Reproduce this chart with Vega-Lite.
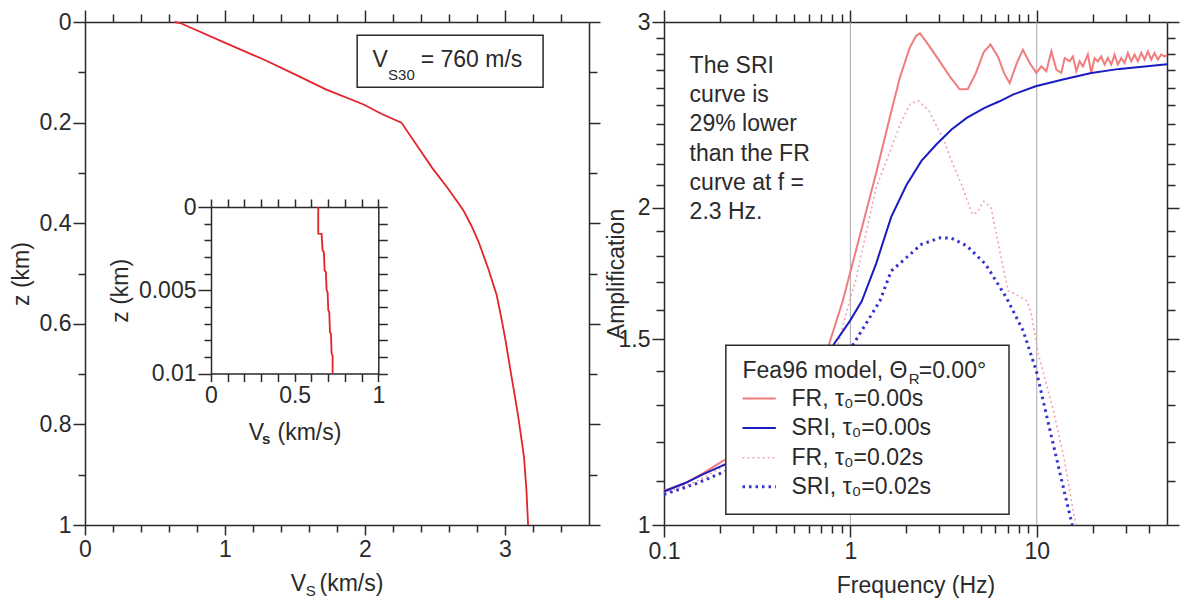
{
"$schema": "https://vega.github.io/schema/vega-lite/v6.json",
"background": "white",
"padding": {"left": 10, "top": 9, "right": 4, "bottom": 4},
"bounds": "flush",
"spacing": 75,
"config": {
  "font": "Liberation Sans",
  "view": {"stroke": null},
  "axis": {"labelFont": "Liberation Sans", "labelFontSize": 23, "labelColor": "#2a2a2a", "titleFont": "Liberation Sans", "titleFontSize": 23, "titleFontWeight": "normal", "titleColor": "#2a2a2a", "domainColor": "#2a2a2a", "domainWidth": 1.5, "tickColor": "#2a2a2a", "tickWidth": 1.5, "grid": false, "labelFlush": false, "labelOverlap": false, "labelBound": false},
  "text": {"font": "Liberation Sans", "fontSize": 23, "color": "#2a2a2a", "align": "left", "baseline": "alphabetic"}
},
"datasets": {
  "profile": [
    {"vs":0.64,"z":0},{"vs":0.68,"z":0.002},{"vs":1.03,"z":0.045},{"vs":1.28,"z":0.075},{"vs":1.5,"z":0.104},{"vs":1.72,"z":0.134},{"vs":1.99,"z":0.164},{"vs":2.12,"z":0.183},{"vs":2.26,"z":0.2},{"vs":2.37,"z":0.245},{"vs":2.48,"z":0.29},{"vs":2.59,"z":0.33},{"vs":2.7,"z":0.373},{"vs":2.76,"z":0.405},{"vs":2.81,"z":0.436},{"vs":2.88,"z":0.49},{"vs":2.94,"z":0.542},{"vs":2.975,"z":0.59},{"vs":3.005,"z":0.635},{"vs":3.04,"z":0.694},{"vs":3.068,"z":0.74},{"vs":3.092,"z":0.78},{"vs":3.118,"z":0.83},{"vs":3.136,"z":0.866},{"vs":3.153,"z":0.93},{"vs":3.165,"z":1.0}
  ],
  "inset": [
    {"vs":0.641,"z":0},{"vs":0.641,"z":0.0016},{"vs":0.661,"z":0.00161},{"vs":0.667,"z":0.0026},{"vs":0.675,"z":0.00271},{"vs":0.679,"z":0.0038},{"vs":0.687,"z":0.00391},{"vs":0.691,"z":0.005},{"vs":0.697,"z":0.00511},{"vs":0.701,"z":0.0062},{"vs":0.707,"z":0.00631},{"vs":0.711,"z":0.0075},{"vs":0.717,"z":0.00761},{"vs":0.721,"z":0.0088},{"vs":0.727,"z":0.00891},{"vs":0.727,"z":0.01}
  ],
  "grid": [{"f":1},{"f":10}],
  "fr0": [
    {"f":0.1,"a":1.078},{"f":0.13,"a":1.096},{"f":0.16,"a":1.118},{"f":0.2,"a":1.146},{"f":0.25,"a":1.172},{"f":0.3,"a":1.197},{"f":0.4,"a":1.245},{"f":0.5,"a":1.3},{"f":0.6,"a":1.365},{"f":0.7,"a":1.435},{"f":0.769,"a":1.485},{"f":0.91,"a":1.631},{"f":1.123,"a":1.88},{"f":1.385,"a":2.168},{"f":1.593,"a":2.398},{"f":1.84,"a":2.655},{"f":2.08,"a":2.835},{"f":2.25,"a":2.91},{"f":2.364,"a":2.926},{"f":2.6,"a":2.86},{"f":3.017,"a":2.753},{"f":3.46,"a":2.655},{"f":3.86,"a":2.59},{"f":4.27,"a":2.592},{"f":4.7,"a":2.68},{"f":5.2,"a":2.81},{"f":5.65,"a":2.856},{"f":6.2,"a":2.78},{"f":6.7,"a":2.68},{"f":7.16,"a":2.625},{"f":7.8,"a":2.74},{"f":8.43,"a":2.824},{"f":9.2,"a":2.74},{"f":9.95,"a":2.685},{"f":10.59,"a":2.723},{"f":11.26,"a":2.694},{"f":11.98,"a":2.814},{"f":12.74,"a":2.704},{"f":13.55,"a":2.684},{"f":14.12,"a":2.773},{"f":15.01,"a":2.753},{"f":15.64,"a":2.783},{"f":16.31,"a":2.694},{"f":16.98,"a":2.753},{"f":17.69,"a":2.723},{"f":18.81,"a":2.794},{"f":19.62,"a":2.684},{"f":20.44,"a":2.773},{"f":21.29,"a":2.753},{"f":22.2,"a":2.783},{"f":23.12,"a":2.734},{"f":24.09,"a":2.773},{"f":25.12,"a":2.734},{"f":26.17,"a":2.794},{"f":27.25,"a":2.734},{"f":28.42,"a":2.773},{"f":29.61,"a":2.743},{"f":30.83,"a":2.804},{"f":32.16,"a":2.753},{"f":33.49,"a":2.794},{"f":34.88,"a":2.753},{"f":36.38,"a":2.804},{"f":37.89,"a":2.764},{"f":39.48,"a":2.814},{"f":41.17,"a":2.764},{"f":42.87,"a":2.804},{"f":44.66,"a":2.764},{"f":46.57,"a":2.794},{"f":48.5,"a":2.783},{"f":50,"a":2.79}
  ],
  "sri0": [
    {"f":0.1,"a":1.076},{"f":0.13,"a":1.096},{"f":0.1616,"a":1.117},{"f":0.214,"a":1.142},{"f":0.3,"a":1.19},{"f":0.4,"a":1.24},{"f":0.5,"a":1.29},{"f":0.6,"a":1.35},{"f":0.7,"a":1.415},{"f":0.817,"a":1.485},{"f":0.993,"a":1.561},{"f":1.152,"a":1.631},{"f":1.375,"a":1.77},{"f":1.657,"a":1.96},{"f":1.997,"a":2.1},{"f":2.406,"a":2.215},{"f":2.899,"a":2.297},{"f":3.49,"a":2.372},{"f":4.21,"a":2.433},{"f":5.25,"a":2.487},{"f":6.32,"a":2.523},{"f":7.45,"a":2.56},{"f":9.87,"a":2.607},{"f":13.82,"a":2.646},{"f":19.62,"a":2.684},{"f":27.8,"a":2.708},{"f":38,"a":2.722},{"f":50,"a":2.735}
  ],
  "fr2": [
    {"f":0.1,"a":1.072},{"f":0.15,"a":1.1},{"f":0.2,"a":1.132},{"f":0.3,"a":1.185},{"f":0.5,"a":1.29},{"f":0.7,"a":1.42},{"f":0.86,"a":1.485},{"f":0.99,"a":1.631},{"f":1.065,"a":1.704},{"f":1.375,"a":2.089},{"f":1.82,"a":2.38},{"f":1.917,"a":2.433},{"f":2.09,"a":2.507},{"f":2.31,"a":2.527},{"f":2.64,"a":2.471},{"f":3.18,"a":2.314},{"f":3.49,"a":2.215},{"f":4.01,"a":2.089},{"f":4.51,"a":1.971},{"f":4.8,"a":1.98},{"f":5.19,"a":2.028},{"f":5.69,"a":1.999},{"f":6.39,"a":1.806},{"f":7.02,"a":1.667},{"f":7.72,"a":1.655},{"f":8.86,"a":1.631},{"f":9.28,"a":1.596},{"f":10.2,"a":1.452},{"f":12.3,"a":1.283},{"f":14.1,"a":1.15},{"f":15.8,"a":1.024},{"f":16.3,"a":1.0}
  ],
  "sri2": [
    {"f":0.1,"a":1.069},{"f":0.15,"a":1.095},{"f":0.214,"a":1.125},{"f":0.3,"a":1.165},{"f":0.5,"a":1.25},{"f":0.7,"a":1.34},{"f":0.85,"a":1.41},{"f":1.04,"a":1.485},{"f":1.44,"a":1.631},{"f":1.657,"a":1.742},{"f":1.997,"a":1.793},{"f":2.406,"a":1.846},{"f":3.04,"a":1.873},{"f":3.49,"a":1.871},{"f":4.21,"a":1.84},{"f":5.31,"a":1.768},{"f":6.7,"a":1.655},{"f":7.02,"a":1.631},{"f":8.46,"a":1.528},{"f":9.95,"a":1.4},{"f":11.7,"a":1.236},{"f":13.5,"a":1.109},{"f":15.5,"a":1.0}
  ]
},
"hconcat": [
  {
    "width": 504, "height": 503,
    "resolve": {"scale": {"x": "independent", "y": "independent"}, "axis": {"x": "independent", "y": "independent"}},
    "layer": [
      {"data": {"name": "profile"}, "mark": {"type": "line", "color": "#e3242b", "strokeWidth": 1.8},
       "encoding": {
         "x": {"field": "vs", "type": "quantitative", "scale": {"type": "linear", "domain": [0, 3.6], "nice": false, "zero": false}, "axis": {"orient": "bottom", "values": [0, 1, 2, 3], "tickSize": 10, "labelPadding": 3, "format": "~g", "title": null}},
         "y": {"field": "z", "type": "quantitative", "scale": {"type": "linear", "domain": [0, 1], "nice": false, "zero": false, "reverse": true}, "axis": {"orient": "left", "values": [0, 0.2, 0.4, 0.6, 0.8, 1], "tickSize": 12, "labelPadding": 2, "format": "~g", "title": "z (km)", "titlePadding": 6}},
         "order": {"field": "z", "type": "quantitative"}}},
      {"data": {"name": "profile"}, "mark": {"type": "point", "opacity": 0},
       "encoding": {
         "x": {"field": "vs", "type": "quantitative", "scale": {"type": "linear", "domain": [0, 3.6], "nice": false, "zero": false}, "axis": {"orient": "bottom", "values": [0.2, 0.4, 0.6, 0.8, 1.2, 1.4, 1.6, 1.8, 2.2, 2.4, 2.6, 2.8, 3.2, 3.4], "tickSize": 7, "labels": false, "domain": false, "title": null}},
         "y": {"field": "z", "type": "quantitative", "scale": {"type": "linear", "domain": [0, 1], "nice": false, "zero": false, "reverse": true}, "axis": {"orient": "left", "values": [0.1, 0.3, 0.5, 0.7, 0.9], "tickSize": 7, "labels": false, "domain": false, "title": null}}}},
      {"data": {"name": "profile"}, "mark": {"type": "point", "opacity": 0},
       "encoding": {
         "x": {"field": "vs", "type": "quantitative", "scale": {"type": "linear", "domain": [0, 3.6], "nice": false, "zero": false}, "axis": {"orient": "top", "values": [0, 1, 2, 3], "tickSize": 12, "labels": false, "title": null}},
         "y": {"field": "z", "type": "quantitative", "scale": {"type": "linear", "domain": [0, 1], "nice": false, "zero": false, "reverse": true}, "axis": {"orient": "right", "values": [0, 0.2, 0.4, 0.6, 0.8, 1], "tickSize": 11, "labels": false, "title": null}}}},
      {"data": {"name": "profile"}, "mark": {"type": "point", "opacity": 0},
       "encoding": {
         "x": {"field": "vs", "type": "quantitative", "scale": {"type": "linear", "domain": [0, 3.6], "nice": false, "zero": false}, "axis": {"orient": "top", "values": [0.2, 0.4, 0.6, 0.8, 1.2, 1.4, 1.6, 1.8, 2.2, 2.4, 2.6, 2.8, 3.2, 3.4], "tickSize": 8, "labels": false, "domain": false, "title": null}},
         "y": {"field": "z", "type": "quantitative", "scale": {"type": "linear", "domain": [0, 1], "nice": false, "zero": false, "reverse": true}, "axis": {"orient": "right", "values": [0.1, 0.3, 0.5, 0.7, 0.9], "tickSize": 8, "labels": false, "domain": false, "title": null}}}},
      {"data": {"name": "inset"}, "mark": {"type": "line", "color": "#e3242b", "strokeWidth": 1.8},
       "encoding": {
         "x": {"field": "vs", "type": "quantitative", "scale": {"type": "linear", "domain": [0, 1], "nice": false, "zero": false, "range": [126, 293.3]}, "axis": {"orient": "bottom", "offset": -151.4, "values": [0, 0.1, 0.2, 0.3, 0.4, 0.5, 0.6, 0.7, 0.8, 0.9, 1], "tickSize": 8, "labelPadding": 3, "format": "~g", "labelExpr": "datum.value == 0 || datum.value == 0.5 || datum.value == 1 ? datum.label : ''", "title": null}},
         "y": {"field": "z", "type": "quantitative", "scale": {"type": "linear", "domain": [0, 0.01], "nice": false, "zero": false, "range": [185, 351.6]}, "axis": {"orient": "left", "offset": -126, "values": [0, 0.005, 0.01], "tickSize": 13, "labelPadding": 2, "format": "~g", "title": "z (km)", "titlePadding": 6}},
         "order": {"field": "z", "type": "quantitative"}}},
      {"data": {"name": "inset"}, "mark": {"type": "point", "opacity": 0},
       "encoding": {
         "x": {"field": "vs", "type": "quantitative", "scale": {"type": "linear", "domain": [0, 1], "nice": false, "zero": false, "range": [126, 293.3]}, "axis": {"orient": "top", "offset": -185, "values": [0, 0.1, 0.2, 0.3, 0.4, 0.5, 0.6, 0.7, 0.8, 0.9, 1], "tickSize": 8, "labels": false, "title": null}},
         "y": {"field": "z", "type": "quantitative", "scale": {"type": "linear", "domain": [0, 0.01], "nice": false, "zero": false, "range": [185, 351.6]}, "axis": {"orient": "left", "offset": -126, "values": [0.001, 0.002, 0.003, 0.004, 0.006, 0.007, 0.008, 0.009], "tickSize": 7, "labels": false, "domain": false, "title": null}}}},
      {"data": {"name": "inset"}, "mark": {"type": "point", "opacity": 0},
       "encoding": {
         "x": {"field": "vs", "type": "quantitative", "scale": {"type": "linear", "domain": [0, 1], "nice": false, "zero": false, "range": [126, 293.3]}, "axis": null},
         "y": {"field": "z", "type": "quantitative", "scale": {"type": "linear", "domain": [0, 0.01], "nice": false, "zero": false, "range": [185, 351.6]}, "axis": {"orient": "right", "offset": -210.7, "values": [0, 0.001, 0.002, 0.003, 0.004, 0.005, 0.006, 0.007, 0.008, 0.009, 0.01], "tickSize": 9, "labels": false, "title": null}}}},
      {"data": {"values": [{}]}, "mark": {"type": "rect", "fill": "white", "stroke": "#2a2a2a", "strokeWidth": 1.5},
       "encoding": {
         "x": {"datum": 1.944, "type": "quantitative", "scale": {"type": "linear", "domain": [0, 3.6], "nice": false, "zero": false}, "axis": null}, "x2": {"datum": 3.272},
         "y": {"datum": 0.0264, "type": "quantitative", "scale": {"type": "linear", "domain": [0, 1], "nice": false, "zero": false, "reverse": true}, "axis": null}, "y2": {"datum": 0.1298}}},
      {"data": {"values": [{}]}, "mark": {"type": "text", "text": "V", "fontSize": 23},
       "encoding": {
         "x": {"datum": 2.054, "type": "quantitative", "scale": {"type": "linear", "domain": [0, 3.6], "nice": false, "zero": false}, "axis": null},
         "y": {"datum": 0.0895, "type": "quantitative", "scale": {"type": "linear", "domain": [0, 1], "nice": false, "zero": false, "reverse": true}, "axis": null}}},
      {"data": {"values": [{}]}, "mark": {"type": "text", "text": "S30", "fontSize": 15},
       "encoding": {
         "x": {"datum": 2.165, "type": "quantitative", "scale": {"type": "linear", "domain": [0, 3.6], "nice": false, "zero": false}, "axis": null},
         "y": {"datum": 0.1145, "type": "quantitative", "scale": {"type": "linear", "domain": [0, 1], "nice": false, "zero": false, "reverse": true}, "axis": null}}},
      {"data": {"values": [{}]}, "mark": {"type": "text", "text": "= 760 m/s", "fontSize": 23},
       "encoding": {
         "x": {"datum": 2.398, "type": "quantitative", "scale": {"type": "linear", "domain": [0, 3.6], "nice": false, "zero": false}, "axis": null},
         "y": {"datum": 0.0895, "type": "quantitative", "scale": {"type": "linear", "domain": [0, 1], "nice": false, "zero": false, "reverse": true}, "axis": null}}},
      {"data": {"values": [{}]}, "mark": {"type": "text", "text": "V", "fontSize": 23},
       "encoding": {
         "x": {"datum": 1.47, "type": "quantitative", "scale": {"type": "linear", "domain": [0, 3.6], "nice": false, "zero": false}, "axis": null},
         "y": {"datum": 1.132, "type": "quantitative", "scale": {"type": "linear", "domain": [0, 1], "nice": false, "zero": false, "reverse": true}, "axis": null}}},
      {"data": {"values": [{}]}, "mark": {"type": "text", "text": "S", "fontSize": 15},
       "encoding": {
         "x": {"datum": 1.577, "type": "quantitative", "scale": {"type": "linear", "domain": [0, 3.6], "nice": false, "zero": false}, "axis": null},
         "y": {"datum": 1.142, "type": "quantitative", "scale": {"type": "linear", "domain": [0, 1], "nice": false, "zero": false, "reverse": true}, "axis": null}}},
      {"data": {"values": [{}]}, "mark": {"type": "text", "text": "(km/s)", "fontSize": 23},
       "encoding": {
         "x": {"datum": 1.675, "type": "quantitative", "scale": {"type": "linear", "domain": [0, 3.6], "nice": false, "zero": false}, "axis": null},
         "y": {"datum": 1.132, "type": "quantitative", "scale": {"type": "linear", "domain": [0, 1], "nice": false, "zero": false, "reverse": true}, "axis": null}}},
      {"data": {"values": [{}]}, "mark": {"type": "text", "text": "V", "fontSize": 23},
       "encoding": {
         "x": {"datum": 0.225, "type": "quantitative", "scale": {"type": "linear", "domain": [0, 1], "nice": false, "zero": false, "range": [126, 293.3]}, "axis": null},
         "y": {"datum": 0.01396, "type": "quantitative", "scale": {"type": "linear", "domain": [0, 0.01], "nice": false, "zero": false, "range": [185, 351.6]}, "axis": null}}},
      {"data": {"values": [{}]}, "mark": {"type": "text", "text": "s", "fontSize": 15, "fontWeight": "bold"},
       "encoding": {
         "x": {"datum": 0.305, "type": "quantitative", "scale": {"type": "linear", "domain": [0, 1], "nice": false, "zero": false, "range": [126, 293.3]}, "axis": null},
         "y": {"datum": 0.01424, "type": "quantitative", "scale": {"type": "linear", "domain": [0, 0.01], "nice": false, "zero": false, "range": [185, 351.6]}, "axis": null}}},
      {"data": {"values": [{}]}, "mark": {"type": "text", "text": "(km/s)", "fontSize": 23},
       "encoding": {
         "x": {"datum": 0.3975, "type": "quantitative", "scale": {"type": "linear", "domain": [0, 1], "nice": false, "zero": false, "range": [126, 293.3]}, "axis": null},
         "y": {"datum": 0.01396, "type": "quantitative", "scale": {"type": "linear", "domain": [0, 0.01], "nice": false, "zero": false, "range": [185, 351.6]}, "axis": null}}}
    ]
  },
  {
    "width": 503, "height": 503,
    "resolve": {"axis": {"x": "independent", "y": "independent"}},
    "layer": [
      {"data": {"name": "grid"}, "mark": {"type": "rule", "color": "#a8a8a8", "strokeWidth": 1},
       "encoding": {
         "x": {"field": "f", "type": "quantitative", "scale": {"type": "log", "domain": [0.1, 50], "nice": false}, "axis": {"orient": "bottom", "values": [0.1, 1, 10], "tickSize": 12, "labelPadding": 3, "format": "~g", "title": "Frequency (Hz)", "titlePadding": 11}}}},
      {"data": {"name": "fr2"}, "mark": {"type": "line", "color": "#f4a3ab", "strokeWidth": 1.6, "strokeDash": [2, 3]},
       "encoding": {
         "x": {"field": "f", "type": "quantitative", "scale": {"type": "log", "domain": [0.1, 50], "nice": false}, "axis": {"orient": "bottom", "values": [0.2, 0.3, 0.4, 0.5, 0.6, 0.7, 0.8, 0.9, 2, 3, 4, 5, 6, 7, 8, 9, 20, 30, 40], "tickSize": 8, "labels": false, "domain": false, "title": null}},
         "y": {"field": "a", "type": "quantitative", "scale": {"type": "log", "domain": [1, 3], "nice": false}, "axis": {"orient": "left", "values": [1, 1.5, 2, 3], "tickSize": 12, "labelPadding": 2, "format": "~g", "title": "Amplification", "titlePadding": -10}}}},
      {"data": {"name": "sri2"}, "mark": {"type": "line", "color": "#3333d0", "strokeWidth": 3, "strokeDash": [2.5, 4]},
       "encoding": {
         "x": {"field": "f", "type": "quantitative", "scale": {"type": "log", "domain": [0.1, 50], "nice": false}, "axis": {"orient": "top", "values": [0.1, 1, 10], "tickSize": 12, "labels": false, "title": null}},
         "y": {"field": "a", "type": "quantitative", "scale": {"type": "log", "domain": [1, 3], "nice": false}, "axis": {"orient": "left", "values": [1.1, 1.2, 1.3, 1.4, 1.6, 1.7, 1.8, 1.9, 2.1, 2.2, 2.3, 2.4, 2.5, 2.6, 2.7, 2.8, 2.9], "tickSize": 8, "labels": false, "domain": false, "title": null}}}},
      {"data": {"name": "fr0"}, "mark": {"type": "line", "color": "#f07c7c", "strokeWidth": 2},
       "encoding": {
         "x": {"field": "f", "type": "quantitative", "scale": {"type": "log", "domain": [0.1, 50], "nice": false}, "axis": {"orient": "top", "values": [0.2, 0.3, 0.4, 0.5, 0.6, 0.7, 0.8, 0.9, 2, 3, 4, 5, 6, 7, 8, 9, 20, 30, 40], "tickSize": 8, "labels": false, "domain": false, "title": null}},
         "y": {"field": "a", "type": "quantitative", "scale": {"type": "log", "domain": [1, 3], "nice": false}, "axis": {"orient": "right", "values": [1, 1.5, 2, 3], "tickSize": 12, "labels": false, "title": null}}}},
      {"data": {"name": "sri0"}, "mark": {"type": "line", "color": "#1c1cc0", "strokeWidth": 2},
       "encoding": {
         "x": {"field": "f", "type": "quantitative", "scale": {"type": "log", "domain": [0.1, 50], "nice": false}, "axis": null},
         "y": {"field": "a", "type": "quantitative", "scale": {"type": "log", "domain": [1, 3], "nice": false}, "axis": {"orient": "right", "values": [1.1, 1.2, 1.3, 1.4, 1.6, 1.7, 1.8, 1.9, 2.1, 2.2, 2.3, 2.4, 2.5, 2.6, 2.7, 2.8, 2.9], "tickSize": 8, "labels": false, "domain": false, "title": null}}}},
      {"data": {"values": [{}]}, "mark": {"type": "text", "text": ["The SRI", "curve is", "29% lower", "than the FR", "curve at f =", "2.3 Hz."], "fontSize": 23, "lineHeight": 29.3},
       "encoding": {
         "x": {"datum": 0.1372, "type": "quantitative", "scale": {"type": "log", "domain": [0.1, 50], "nice": false}, "axis": null},
         "y": {"datum": 2.685, "type": "quantitative", "scale": {"type": "log", "domain": [1, 3], "nice": false}, "axis": null}}},
      {"data": {"values": [{}]}, "mark": {"type": "rect", "fill": "white", "stroke": "#2a2a2a", "strokeWidth": 1.5},
       "encoding": {
         "x": {"datum": 0.2147, "type": "quantitative", "scale": {"type": "log", "domain": [0.1, 50], "nice": false}, "axis": null}, "x2": {"datum": 7.1},
         "y": {"datum": 1.481, "type": "quantitative", "scale": {"type": "log", "domain": [1, 3], "nice": false}, "axis": null}, "y2": {"datum": 1.0236}}},
      {"data": {"values": [{}]}, "mark": {"type": "text", "text": "Fea96 model, Θ", "fontSize": 23},
       "encoding": {
         "x": {"datum": 0.2638, "type": "quantitative", "scale": {"type": "log", "domain": [0.1, 50], "nice": false}, "axis": null},
         "y": {"datum": 1.379, "type": "quantitative", "scale": {"type": "log", "domain": [1, 3], "nice": false}, "axis": null}}},
      {"data": {"values": [{}]}, "mark": {"type": "text", "text": "R", "fontSize": 15},
       "encoding": {
         "x": {"datum": 2.056, "type": "quantitative", "scale": {"type": "log", "domain": [0.1, 50], "nice": false}, "axis": null},
         "y": {"datum": 1.36, "type": "quantitative", "scale": {"type": "log", "domain": [1, 3], "nice": false}, "axis": null}}},
      {"data": {"values": [{}]}, "mark": {"type": "text", "text": "=0.00°", "fontSize": 23},
       "encoding": {
         "x": {"datum": 2.327, "type": "quantitative", "scale": {"type": "log", "domain": [0.1, 50], "nice": false}, "axis": null},
         "y": {"datum": 1.379, "type": "quantitative", "scale": {"type": "log", "domain": [1, 3], "nice": false}, "axis": null}}},
      {"data": {"values": [{}]}, "mark": {"type": "rule", "color": "#f07c7c", "strokeWidth": 2},
       "encoding": {
         "x": {"datum": 0.2638, "type": "quantitative", "scale": {"type": "log", "domain": [0.1, 50], "nice": false}, "axis": null}, "x2": {"datum": 0.398},
         "y": {"datum": 1.318, "type": "quantitative", "scale": {"type": "log", "domain": [1, 3], "nice": false}, "axis": null}}},
      {"data": {"values": [{}]}, "mark": {"type": "rule", "color": "#1c1cc0", "strokeWidth": 2},
       "encoding": {
         "x": {"datum": 0.2638, "type": "quantitative", "scale": {"type": "log", "domain": [0.1, 50], "nice": false}, "axis": null}, "x2": {"datum": 0.398},
         "y": {"datum": 1.2363, "type": "quantitative", "scale": {"type": "log", "domain": [1, 3], "nice": false}, "axis": null}}},
      {"data": {"values": [{}]}, "mark": {"type": "rule", "color": "#f4a3ab", "strokeWidth": 1.6, "strokeDash": [2, 3]},
       "encoding": {
         "x": {"datum": 0.2638, "type": "quantitative", "scale": {"type": "log", "domain": [0.1, 50], "nice": false}, "axis": null}, "x2": {"datum": 0.398},
         "y": {"datum": 1.1581, "type": "quantitative", "scale": {"type": "log", "domain": [1, 3], "nice": false}, "axis": null}}},
      {"data": {"values": [{}]}, "mark": {"type": "rule", "color": "#3333d0", "strokeWidth": 3, "strokeDash": [2.5, 4]},
       "encoding": {
         "x": {"datum": 0.2638, "type": "quantitative", "scale": {"type": "log", "domain": [0.1, 50], "nice": false}, "axis": null}, "x2": {"datum": 0.398},
         "y": {"datum": 1.0872, "type": "quantitative", "scale": {"type": "log", "domain": [1, 3], "nice": false}, "axis": null}}},
      {"data": {"values": [{}]}, "mark": {"type": "text", "text": "FR, τ₀=0.00s", "fontSize": 23},
       "encoding": {
         "x": {"datum": 0.4833, "type": "quantitative", "scale": {"type": "log", "domain": [0.1, 50], "nice": false}, "axis": null},
         "y": {"datum": 1.2967, "type": "quantitative", "scale": {"type": "log", "domain": [1, 3], "nice": false}, "axis": null}}},
      {"data": {"values": [{}]}, "mark": {"type": "text", "text": "SRI, τ₀=0.00s", "fontSize": 23},
       "encoding": {
         "x": {"datum": 0.4833, "type": "quantitative", "scale": {"type": "log", "domain": [0.1, 50], "nice": false}, "axis": null},
         "y": {"datum": 1.2162, "type": "quantitative", "scale": {"type": "log", "domain": [1, 3], "nice": false}, "axis": null}}},
      {"data": {"values": [{}]}, "mark": {"type": "text", "text": "FR, τ₀=0.02s", "fontSize": 23},
       "encoding": {
         "x": {"datum": 0.4833, "type": "quantitative", "scale": {"type": "log", "domain": [0.1, 50], "nice": false}, "axis": null},
         "y": {"datum": 1.1397, "type": "quantitative", "scale": {"type": "log", "domain": [1, 3], "nice": false}, "axis": null}}},
      {"data": {"values": [{}]}, "mark": {"type": "text", "text": "SRI, τ₀=0.02s", "fontSize": 23},
       "encoding": {
         "x": {"datum": 0.4833, "type": "quantitative", "scale": {"type": "log", "domain": [0.1, 50], "nice": false}, "axis": null},
         "y": {"datum": 1.0707, "type": "quantitative", "scale": {"type": "log", "domain": [1, 3], "nice": false}, "axis": null}}}
    ]
  }
]
}
